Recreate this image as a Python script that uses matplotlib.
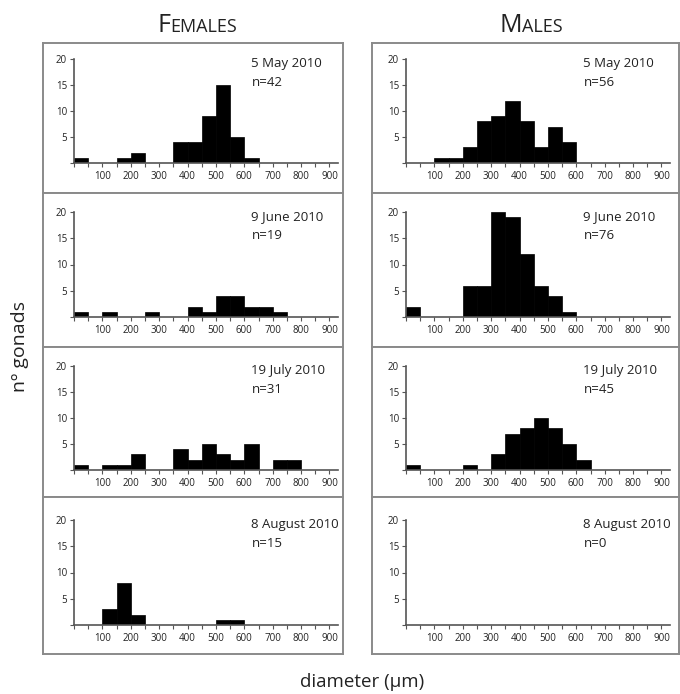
import numpy as np
import matplotlib
matplotlib.use("Agg")
import matplotlib.pyplot as plt

plt.rcParams['font.family'] = ['Open Sans', 'DejaVu Sans']

# left edges of the 50 µm diameter classes
bin_left = np.arange(0, 900, 50)

# counts per class
fem_may = [1, 0, 0, 1, 2, 0, 0, 4, 4, 9, 15, 5, 1, 0, 0, 0, 0, 0]
fem_jun = [1, 0, 1, 0, 0, 1, 0, 0, 2, 1, 4, 4, 2, 2, 1, 0, 0, 0]
fem_jul = [1, 0, 1, 1, 3, 0, 0, 4, 2, 5, 3, 2, 5, 0, 2, 2, 0, 0]
fem_aug = [0, 0, 3, 8, 2, 0, 0, 0, 0, 0, 1, 1, 0, 0, 0, 0, 0, 0]
mal_may = [0, 0, 1, 1, 3, 8, 9, 12, 8, 3, 7, 4, 0, 0, 0, 0, 0, 0]
mal_jun = [2, 0, 0, 0, 6, 6, 20, 19, 12, 6, 4, 1, 0, 0, 0, 0, 0, 0]
mal_jul = [1, 0, 0, 0, 1, 0, 3, 7, 8, 10, 8, 5, 2, 0, 0, 0, 0, 0]
mal_aug = [0] * 18

dates = ["5 May 2010", "9 June 2010", "19 July 2010", "8 August 2010"]
n_fem = [42, 19, 31, 15]
n_mal = [56, 76, 45, 0]

W, H = 680, 694
fig = plt.figure(figsize=(W / 100, H / 100), dpi=100)

def box(x0, y0, x1, y1):
    # pixel box (top-left origin) -> figure fraction rect
    return [x0 / W, 1 - y1 / H, (x1 - x0) / W, (y1 - y0) / H]

frame_rows = [(43, 193), (193, 347), (347, 497), (497, 654)]
frame_cols = [(43, 343), (372, 679)]
axis_rows = [(59, 163), (212, 317), (366, 470), (520, 625)]
axis_cols = [(74, 338), (406, 670)]

data = [[fem_may, mal_may], [fem_jun, mal_jun], [fem_jul, mal_jul], [fem_aug, mal_aug]]
ns = [n_fem, n_mal]

gray = '#8a8a8a'
dark = '#555555'
txt = '#222222'

for r in range(4):
    for c in range(2):
        fx0, fx1 = frame_cols[c]
        fy0, fy1 = frame_rows[r]
        frame = fig.add_axes(box(fx0, fy0, fx1, fy1))
        frame.set_xticks([])
        frame.set_yticks([])
        for s in frame.spines.values():
            s.set_color(gray)
            s.set_linewidth(1.4)

        ax0, ax1 = axis_cols[c]
        ay0, ay1 = axis_rows[r]
        ax = fig.add_axes(box(ax0, ay0, ax1, ay1))
        ax.patch.set_alpha(0)
        ax.bar(bin_left, data[r][c], width=50, align='edge',
               color='black', edgecolor='black', linewidth=0.5)
        ax.set_xlim(0, 930)
        ax.set_ylim(0, 20)
        for s in ['top', 'right']:
            ax.spines[s].set_visible(False)
        for s in ['left', 'bottom']:
            ax.spines[s].set_color(dark)
            ax.spines[s].set_linewidth(1.2)
        ax.set_xticks(np.arange(0, 901, 50))
        ax.set_xticklabels([str(v) if v % 100 == 0 and v > 0 else '' for v in range(0, 901, 50)])
        ax.set_yticks([0, 5, 10, 15, 20])
        ax.set_yticklabels(['', '5', '10', '15', '20'])
        ax.tick_params(axis='both', length=3, width=0.8, color=dark,
                       labelsize=7, labelcolor=txt, pad=2)
        ax.tick_params(axis='x', pad=3)

        t1 = ax.text(625, 18.4, dates[r], fontsize=9.5, color=txt, va='baseline')
        t2 = ax.text(625, 14.9, "n=%d" % ns[c][r], fontsize=9.5, color=txt, va='baseline')
        for t in (t1, t2):
            t.set_clip_on(True)
            t.set_clip_box(frame.bbox)

# column headers in small caps
def small_caps(xc, y, first, rest):
    t = fig.text(0, 0, first, fontsize=18, color=txt, va='baseline')
    t2 = fig.text(0, 0, rest, fontsize=13, color=txt, va='baseline')
    fig.canvas.draw()
    rend = fig.canvas.get_renderer()
    w1 = t.get_window_extent(rend).width
    w2 = t2.get_window_extent(rend).width
    x0 = xc - (w1 + w2) / 2
    t.set_position((x0 / W, 1 - y / H))
    t2.set_position(((x0 + w1) / W, 1 - y / H))

small_caps(197, 32, "F", "EMALES")
small_caps(531, 32, "M", "ALES")

fig.text(20 / W, 1 - 347 / H, "nº gonads", rotation=90, fontsize=14,
         color=txt, ha='center', va='center')
fig.text(362 / W, 1 - 682 / H, "diameter (µm)", fontsize=13.5,
         color=txt, ha='center', va='center')

fig.savefig("out.png", dpi=100)
